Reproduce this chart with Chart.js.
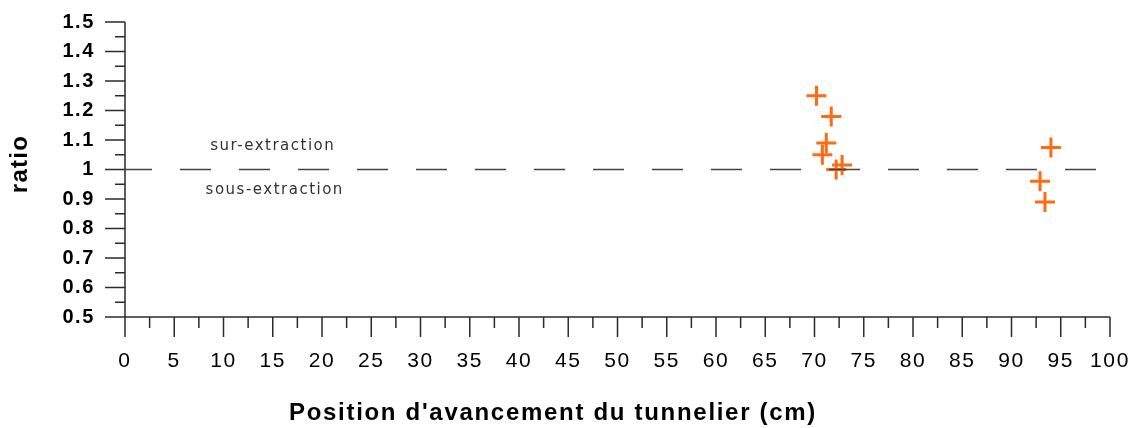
<!DOCTYPE html>
<html>
<head>
<meta charset="utf-8">
<script src="https://cdn.jsdelivr.net/npm/chart.js@4.4.1/dist/chart.umd.min.js"></script>
<style>
  html, body { margin: 0; padding: 0; background: #fff; }
  #wrap { width: 1129px; height: 428px; position: relative; }
</style>
</head>
<body>
<div id="wrap"><canvas id="ratioChart"></canvas></div>
<script>
// measured extraction ratio vs. TBM advance position
const positions = [70.2, 71.7, 71.2, 70.8, 72.2, 72.8, 94.0, 92.9, 93.4];
const ratios = [1.25, 1.18, 1.09, 1.05, 1.00, 1.015, 1.075, 0.96, 0.89];

// reference level (ratio = 1) drawn across the whole axis
const referenceX = [0, 100];
const referenceY = [1, 1];

const xTicks = [0, 5, 10, 15, 20, 25, 30, 35, 40, 45, 50, 55, 60, 65, 70, 75, 80, 85, 90, 95, 100];
const yTicks = [0.5, 0.6, 0.7, 0.8, 0.9, 1, 1.1, 1.2, 1.3, 1.4, 1.5];

const xTitle = "Position d'avancement du tunnelier (cm)";
const yTitle = 'ratio';
const zoneLabels = ['sur-extraction', 'sous-extraction'];

const AXIS_COLOR = '#2b2b2b';
const MARK_COLOR = '#ff6a13';
const FONT = '"Liberation Sans", Arial, sans-serif';

// axis lines with long major ticks and short minor ticks in between
const axesPlugin = {
    id: 'axes',
    beforeDraw(chart) {
        // the tick labels are drawn slightly spread out
        chart.ctx.letterSpacing = '1.6px';
    },
    beforeDatasetsDraw(chart) {
        const { ctx, chartArea: a, scales: { x, y } } = chart;
        ctx.save();
        ctx.strokeStyle = AXIS_COLOR;
        ctx.lineWidth = 1.5;
        ctx.beginPath();
        ctx.moveTo(a.left, a.top);
        ctx.lineTo(a.left, a.bottom);
        ctx.moveTo(a.left, a.bottom);
        ctx.lineTo(a.right, a.bottom);

        yTicks.forEach((v, i) => {
            const py = y.getPixelForValue(v);
            ctx.moveTo(a.left - 20, py);
            ctx.lineTo(a.left, py);
            if (i < yTicks.length - 1) {
                const my = y.getPixelForValue((v + yTicks[i + 1]) / 2);
                ctx.moveTo(a.left - 10, my);
                ctx.lineTo(a.left, my);
            }
        });
        xTicks.forEach((v, i) => {
            const px = x.getPixelForValue(v);
            ctx.moveTo(px, a.bottom);
            ctx.lineTo(px, a.bottom + 20);
            if (i < xTicks.length - 1) {
                const mx = x.getPixelForValue((v + xTicks[i + 1]) / 2);
                ctx.moveTo(mx, a.bottom);
                ctx.lineTo(mx, a.bottom + 11);
            }
        });
        ctx.stroke();
        ctx.restore();
    }
};

// axis titles and the two zone captions around the reference line
const textPlugin = {
    id: 'texts',
    afterDraw(chart) {
        const { ctx, scales: { x, y } } = chart;
        ctx.save();
        ctx.fillStyle = '#000';
        ctx.textAlign = 'center';
        ctx.textBaseline = 'alphabetic';
        ctx.font = 'bold 24px ' + FONT;
        ctx.letterSpacing = '1.7px';
        ctx.fillText(xTitle, 553, 420);

        ctx.font = 'bold 24px ' + FONT;
        ctx.letterSpacing = '1.3px';
        ctx.translate(27, 164);
        ctx.rotate(-Math.PI / 2);
        ctx.fillText(yTitle, 0, 0);
        ctx.restore();

        ctx.save();
        ctx.fillStyle = '#333';
        ctx.font = '15px "DejaVu Sans", sans-serif';
        ctx.letterSpacing = '1.5px';
        ctx.textAlign = 'center';
        ctx.textBaseline = 'middle';
        ctx.fillText(zoneLabels[0], x.getPixelForValue(15), y.getPixelForValue(1.08));
        ctx.fillText(zoneLabels[1], x.getPixelForValue(15.2), y.getPixelForValue(0.93));
        ctx.restore();
        ctx.letterSpacing = '0px';
    }
};

// keep the plot area where the layout padding puts it
const fixedBox = size => scale => {
    if (scale.isHorizontal()) scale.height = size; else scale.width = size;
    scale.paddingTop = scale.paddingBottom = scale.paddingLeft = scale.paddingRight = 0;
};

const toPoints = (xs, ys) => xs.map((v, i) => ({ x: v, y: ys[i] }));

new Chart(document.getElementById('ratioChart'), {
    type: 'scatter',
    data: {
        datasets: [
            {
                type: 'line',
                data: toPoints(referenceX, referenceY),
                borderColor: '#444',
                borderWidth: 1.5,
                borderDash: [31, 28],
                borderDashOffset: 4,
                pointRadius: 0,
                fill: false
            },
            {
                data: toPoints(positions, ratios),
                pointStyle: 'cross',
                pointRadius: 10,
                borderColor: MARK_COLOR,
                backgroundColor: MARK_COLOR,
                borderWidth: 3
            }
        ]
    },
    options: {
        responsive: true,
        maintainAspectRatio: false,
        animation: false,
        events: [],
        layout: { padding: { top: 22, right: 19, left: 0, bottom: 0 } },
        plugins: {
            legend: { display: false },
            tooltip: { enabled: false }
        },
        scales: {
            x: {
                type: 'linear',
                min: 0,
                max: 100,
                afterBuildTicks: scale => { scale.ticks = xTicks.map(v => ({ value: v })); },
                afterFit: fixedBox(111),
                grid: { display: false, drawTicks: false },
                border: { display: false },
                ticks: {
                    autoSkip: false,
                    maxRotation: 0,
                    padding: 32,
                    color: '#000',
                    font: { family: FONT, size: 21 }
                }
            },
            y: {
                type: 'linear',
                min: 0.5,
                max: 1.5,
                afterBuildTicks: scale => { scale.ticks = yTicks.map(v => ({ value: v })); },
                afterFit: fixedBox(125),
                grid: { display: false, drawTicks: false },
                border: { display: false },
                ticks: {
                    autoSkip: false,
                    padding: 30,
                    color: '#000',
                    callback: v => String(Number(v.toFixed(2))),
                    font: { family: FONT, size: 20, weight: 'bold' }
                }
            }
        }
    },
    plugins: [axesPlugin, textPlugin]
});
</script>
</body>
</html>
